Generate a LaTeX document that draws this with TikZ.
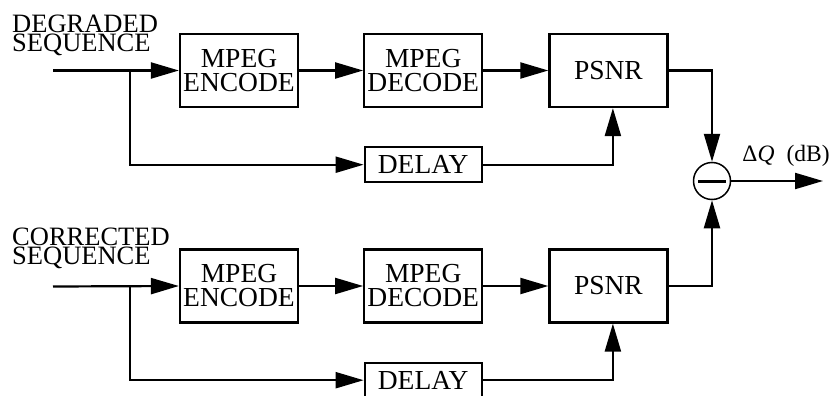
\documentclass[tikz,border=0pt]{standalone}
\usepackage{fontspec}
\setmainfont{Liberation Serif}
\usetikzlibrary{arrows.meta,positioning}
\tikzset{
  blk/.style={rectangle, draw=black, line width=2.2pt, minimum width=118pt, minimum height=73pt,
              inner sep=0pt, align=center, font=\fontsize{27.5}{24}\selectfont},
  dly/.style={rectangle, draw=black, line width=2.2pt, minimum width=117pt, minimum height=35pt,
              inner sep=0pt, align=center, font=\fontsize{27.5}{24}\selectfont},
  sumc/.style={circle, draw=black, line width=1.5pt, minimum size=37pt, inner sep=0pt},
  ar/.style={-{Triangle[length=28pt,width=16pt]}, line width=2.2pt},
  lbl/.style={font=\fontsize{26.5}{19}\selectfont, align=left, inner sep=0pt},
}

\begin{document}
\begin{tikzpicture}[x=1pt,y=-1pt]
\useasboundingbox (0,0) rectangle (836,396);
% degraded branch
\node[blk] (enc1) at (239,70.5) {MPEG\\ENCODE};
\node[blk, right=64pt of enc1] (dec1) {MPEG\\DECODE};
\node[blk, right=65pt of dec1] (psnr1) {PSNR};
\node[dly, below=38pt of dec1] (dly1) {DELAY};
% corrected branch
\node[blk] (enc2) at (239,286) {MPEG\\ENCODE};
\node[blk, right=64pt of enc2] (dec2) {MPEG\\DECODE};
\node[blk, right=65pt of dec2] (psnr2) {PSNR};
\node[dly, below=38pt of dec2] (dly2) {DELAY};
% difference
\node[sumc] (sum) at (712,181) {};
\draw[line width=3pt] ([xshift=-14pt]sum.center) -- ([xshift=14pt]sum.center);
\coordinate (in1) at (53,70.5);
\coordinate (br1) at (130,70.5);
\coordinate (in2) at (53,286.5);
\coordinate (br2) at (130,286.5);
\coordinate (out) at (823,181);
\node[lbl, anchor=north west] (deg) at (12,14.5) {DEGRADED\\SEQUENCE};
\node[lbl, anchor=north west] (cor) at (12,227.5) {CORRECTED\\SEQUENCE};
% connectors
\draw[ar] (in1) -- (enc1.west);
\draw[ar] (br1) |- (dly1.west);
\draw[ar] (enc1) -- (dec1);
\draw[ar] (dec1) -- (psnr1);
\draw[ar] (dly1.east) -| ([xshift=4.5pt]psnr1.south);
\draw[ar] (in2) -- (enc2.west);
\draw[ar] (br2) |- (dly2.west);
\draw[ar] (enc2) -- (dec2);
\draw[ar] (dec2) -- (psnr2);
\draw[ar] (dly2.east) -| ([xshift=4.5pt]psnr2.south);
\draw[ar] (psnr1.east) -| (sum.north);
\draw[ar] (psnr2.east) -| (sum.south);
\draw[ar] (sum) -- (out) node[pos=0.11, anchor=base west, yshift=20pt, font=\fontsize{23.5}{24}\selectfont, inner sep=0pt] {Δ\textit{Q}\hspace{12pt}(dB)};
\end{tikzpicture}
\end{document}
